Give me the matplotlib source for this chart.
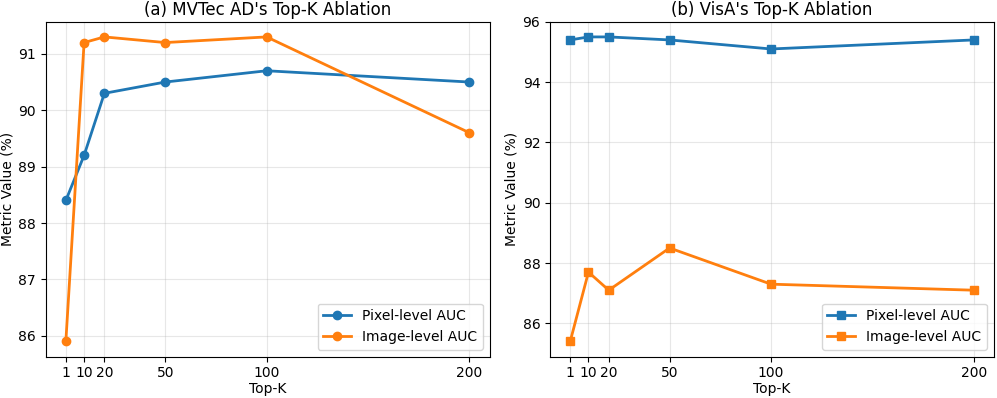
import matplotlib
matplotlib.use("Agg")
from matplotlib import pyplot as plt

top_k = [1, 10, 20, 50, 100, 200]

mvtec_pixel = [88.4, 89.2, 90.3, 90.5, 90.7, 90.5]
mvtec_image = [85.9, 91.2, 91.3, 91.2, 91.3, 89.6]

visa_pixel = [95.4, 95.5, 95.5, 95.4, 95.1, 95.4]
visa_image = [85.4, 87.7, 87.1, 88.5, 87.3, 87.1]

fig, (ax1, ax2) = plt.subplots(1, 2, figsize=(9.97, 3.98), dpi=100)

ax1.plot(top_k, mvtec_pixel, marker="o", linewidth=2, label="Pixel-level AUC")
ax1.plot(top_k, mvtec_image, marker="o", linewidth=2, label="Image-level AUC")
ax1.set_title("(a) MVTec AD's Top-K Ablation", fontsize=12, pad=5)
ax1.set_xlabel("Top-K", labelpad=1)
ax1.set_ylabel("Metric Value (%)", labelpad=3)
ax1.set_xticks(top_k)
ax1.grid(True, alpha=0.3)
ax1.legend(loc="lower right")

ax2.plot(top_k, visa_pixel, marker="s", linewidth=2, label="Pixel-level AUC")
ax2.plot(top_k, visa_image, marker="s", linewidth=2, label="Image-level AUC")
ax2.set_title("(b) VisA's Top-K Ablation", fontsize=12, pad=5)
ax2.set_xlabel("Top-K", labelpad=1)
ax2.set_ylabel("Metric Value (%)", labelpad=3)
ax2.set_xticks(top_k)
ax2.grid(True, alpha=0.3)
ax2.legend(loc="lower right")

plt.subplots_adjust(left=0.0458, right=0.997, top=0.9455, bottom=0.1038, wspace=0.136)
plt.savefig("out.png")
